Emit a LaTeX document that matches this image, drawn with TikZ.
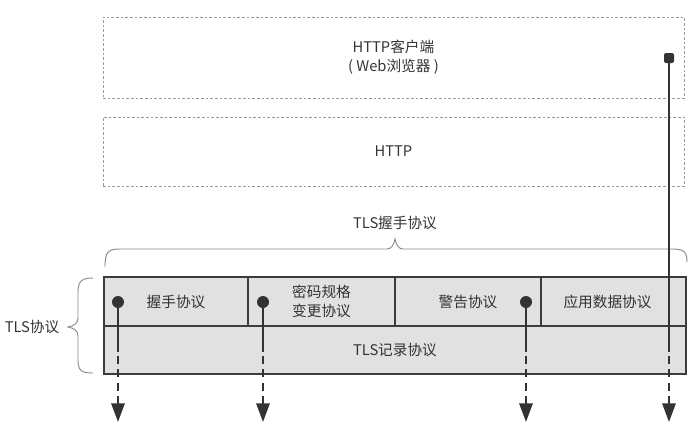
\documentclass[tikz,border=0pt]{standalone}
\usepackage{fontspec}
\setmainfont{Noto Sans CJK SC}
\usetikzlibrary{arrows.meta}
\definecolor{txt}{HTML}{333333}
\definecolor{edge}{HTML}{3C3C3C}
\definecolor{cellfill}{HTML}{E1E1E1}
\definecolor{dashc}{HTML}{9A9A9A}
\definecolor{bracec}{HTML}{8A8A8A}
\begin{document}
\begin{tikzpicture}[x=0.75pt,y=-0.75pt,
  every node/.style={font=\fontsize{11}{14}\selectfont, text=txt, inner sep=0pt, align=center},
  dbox/.style={draw=dashc, line width=0.6pt, dash pattern=on 2pt off 1.5pt, rectangle},
  cell/.style={draw=edge, fill=cellfill, line width=1.5pt, rectangle},
  dotn/.style={circle, fill=txt, minimum size=9pt},
  sqn/.style={rectangle, fill=txt, minimum size=7.5pt, rounded corners=1.5pt},
  solidpart/.style={draw=txt, line width=1.5pt},
  dashpart/.style={draw=txt, line width=1.5pt, dash pattern=on 6pt off 4pt, -{Triangle[width=10pt,length=14pt]}},
  bracep/.style={draw=bracec, line width=0.7pt}
]
\useasboundingbox (0,0) rectangle (697,425);
% dashed boxes
\node[dbox, minimum width=435.75pt, minimum height=60.75pt] (client) at (393.5,57.5) {HTTP客户端\\( Web浏览器 )};
\node[dbox, minimum width=435.75pt, minimum height=51.75pt] (http) at (393.5,151.5) {HTTP};
% TLS block
\node[cell, minimum width=436.5pt, minimum height=36pt] (record) at (395,350) {TLS记录协议};
\node[cell, minimum width=108pt, minimum height=36.75pt] (hs) at (176,301.5) {握手协议};
\node[cell, minimum width=110.25pt, minimum height=36.75pt] (ccs) at (321.5,301.5) {密码规格\\变更协议};
\node[cell, minimum width=109.5pt, minimum height=36.75pt] (alert) at (468,301.5) {警告协议};
\node[cell, minimum width=108.75pt, minimum height=36.75pt] (app) at (613.5,301.5) {\hspace*{-9pt}应用数据协议};
% braces
\draw[bracep] (105,267) .. controls (105,252) and (108,249) .. (120,249) -- (387,249)
  .. controls (391,249) and (394,245) .. (395,239) .. controls (396,245) and (399,249) .. (403,249)
  -- (672,249) .. controls (684,249) and (687,252) .. (687,262);
\node (hslabel) at (395,223) {TLS握手协议};
\draw[bracep] (93,278) .. controls (82,278) and (78,281) .. (78,292) -- (78,318)
  .. controls (78,323) and (74,326) .. (68,327) .. controls (74,328) and (78,331) .. (78,336)
  -- (78,360) .. controls (78,371) and (82,373) .. (93,373);
\node (tlslabel) at (32,327) {TLS协议};
% connectors
\node[dotn] (d1) at (118,302) {};
\node[dotn] (d2) at (263,302) {};
\node[dotn] (d3) at (526,302) {};
\node[sqn] (d4) at (669,58) {};
\coordinate (s1) at (118,352);
\coordinate (s2) at (263,352);
\coordinate (s3) at (526,352);
\coordinate (s4) at (669,352);
\coordinate (e1) at (118,422);
\coordinate (e2) at (263,422);
\coordinate (e3) at (526,422);
\coordinate (e4) at (669,422);
\foreach \i in {1,2,3,4}{
  \draw[solidpart] (d\i.center) -- (s\i);
  \draw[dashpart] ([yshift=-3pt]s\i) -- (e\i);
}
\end{tikzpicture}
\end{document}
